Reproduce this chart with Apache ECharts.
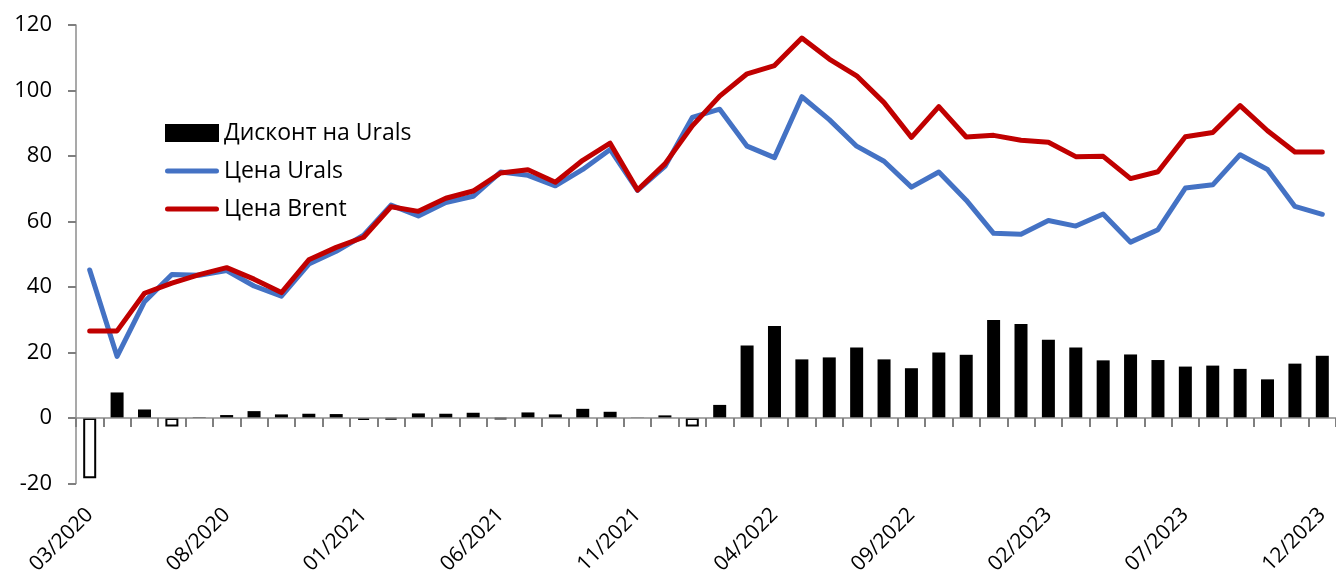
<!DOCTYPE html>
<html>
<head>
<meta charset="utf-8">
<script src="https://cdn.jsdelivr.net/npm/echarts@6/dist/echarts.min.js"></script>
<style>
html,body{margin:0;padding:0;background:#fff;}
#chart{width:1336px;height:583px;}
</style>
</head>
<body>
<div id="chart"></div>
<script>
const categories = [
  '03/2020','04/2020','05/2020','06/2020','07/2020','08/2020','09/2020','10/2020','11/2020','12/2020',
  '01/2021','02/2021','03/2021','04/2021','05/2021','06/2021','07/2021','08/2021','09/2021','10/2021',
  '11/2021','12/2021','01/2022','02/2022','03/2022','04/2022','05/2022','06/2022','07/2022','08/2022',
  '09/2022','10/2022','11/2022','12/2022','01/2023','02/2023','03/2023','04/2023','05/2023','06/2023',
  '07/2023','08/2023','09/2023','10/2023','11/2023','12/2023'
];
const discount = [
  -18.4, 7.8, 2.6, -2.6, 0.2, 0.9, 2.1, 1.1, 1.3, 1.2,
  -0.6, -0.5, 1.4, 1.3, 1.6, -0.3, 1.7, 1.1, 2.8, 1.9,
  0.1, 0.8, -2.6, 4.0, 22.1, 28.1, 17.9, 18.5, 21.5, 17.9,
  15.2, 20.0, 19.3, 29.9, 28.7, 23.9, 21.5, 17.6, 19.4, 17.7,
  15.7, 16.0, 15.0, 11.8, 16.6, 19.0
];
const urals = [
  45.2, 18.8, 35.5, 43.8, 43.6, 45.0, 40.3, 37.2, 47.0, 50.9,
  55.8, 65.0, 61.7, 65.8, 67.7, 75.1, 74.1, 70.9, 75.9, 82.0,
  69.5, 76.8, 91.8, 94.3, 83.0, 79.5, 98.1, 91.1, 83.0, 78.4,
  70.5, 75.1, 66.5, 56.4, 56.1, 60.3, 58.6, 62.3, 53.7, 57.5,
  70.2, 71.2, 80.4, 75.9, 64.6, 62.2
];
const brent = [
  26.6, 26.6, 38.1, 41.2, 43.8, 45.9, 42.4, 38.3, 48.3, 52.1,
  55.2, 64.5, 63.1, 67.1, 69.3, 74.8, 75.8, 72.0, 78.7, 83.9,
  69.6, 77.6, 89.2, 98.3, 105.1, 107.6, 116.0, 109.6, 104.5, 96.3,
  85.7, 95.1, 85.8, 86.3, 84.8, 84.2, 79.8, 79.9, 73.1, 75.2,
  85.9, 87.2, 95.4, 87.7, 81.2, 81.2
];
const yTicks = { min: -20, max: 120, interval: 20 };

const chart = echarts.init(document.getElementById('chart'));
const axisGrey = '#8c8c8c';
const tickGrey = '#7f7f7f';
const fontFam = '"Open Sans", "Noto Sans", sans-serif';
const linePath = 'path://M2.5,0 L51.5,0 A2.5,2.5 0 0 1 51.5,5 L2.5,5 A2.5,2.5 0 0 1 2.5,0 Z';

chart.setOption({
  animation: false,
  backgroundColor: '#fff',
  grid: { left: 76, top: 25, width: 1265, height: 458.5, containLabel: false },
  legend: {
    orient: 'vertical',
    left: 160,
    top: 116,
    itemWidth: 54,
    itemHeight: 18,
    itemGap: 14,
    textStyle: { fontSize: 23, lineHeight: 24, color: '#000', fontFamily: fontFam },
    data: [
      { name: 'Дисконт на Urals', icon: 'rect' },
      { name: 'Цена Urals', icon: linePath },
      { name: 'Цена Brent', icon: linePath }
    ]
  },
  xAxis: [
    {
      type: 'category',
      data: categories,
      position: 'bottom',
      z: 5,
      axisLine: { show: true, onZero: true, lineStyle: { color: axisGrey, width: 1.5 } },
      axisTick: { show: true, length: 9, interval: 0, lineStyle: { color: tickGrey, width: 2 } },
      axisLabel: { show: false, interval: 0 },
      splitLine: { show: false }
    },
    {
      type: 'category',
      data: categories,
      position: 'bottom',
      axisLine: { show: false, onZero: false },
      axisTick: { show: false },
      axisLabel: {
        interval: 4,
        rotate: 45,
        margin: 28,
        fontSize: 21,
        color: '#000',
        fontFamily: fontFam
      },
      splitLine: { show: false }
    }
  ],
  yAxis: {
    type: 'value',
    min: yTicks.min,
    max: yTicks.max,
    interval: yTicks.interval,
    axisLine: { show: true, lineStyle: { color: axisGrey, width: 1.5 } },
    axisTick: { show: true, length: 8, lineStyle: { color: tickGrey, width: 2 } },
    axisLabel: { fontSize: 22, color: '#000', margin: 24, fontFamily: fontFam },
    splitLine: { show: false }
  },
  series: [
    {
      name: 'Дисконт на Urals',
      type: 'bar',
      xAxisIndex: 0,
      barWidth: 13,
      itemStyle: { color: '#000' },
      data: discount.map(v => v < 0
        ? { value: v, itemStyle: { color: '#fff', borderColor: '#000', borderWidth: 2 } }
        : { value: v })
    },
    {
      name: 'Цена Urals',
      type: 'line',
      xAxisIndex: 0,
      symbol: 'none',
      itemStyle: { color: '#4472C4' },
      lineStyle: { color: '#4472C4', width: 5, cap: 'round', join: 'round' },
      data: urals
    },
    {
      name: 'Цена Brent',
      type: 'line',
      xAxisIndex: 0,
      symbol: 'none',
      itemStyle: { color: '#C00000' },
      lineStyle: { color: '#C00000', width: 5, cap: 'round', join: 'round' },
      data: brent
    }
  ]
});
</script>
</body>
</html>
